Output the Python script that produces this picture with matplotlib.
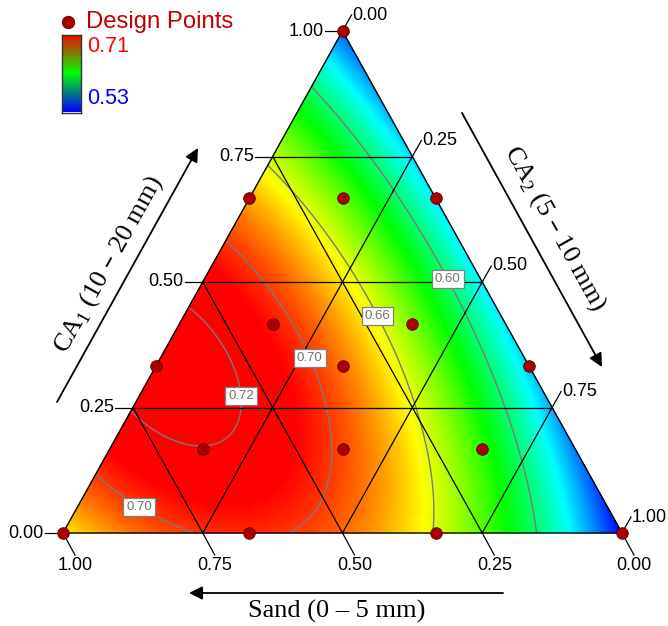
import numpy as np
import matplotlib
matplotlib.use("Agg")
import matplotlib.pyplot as plt
import matplotlib.tri as mtri
from matplotlib.colors import LinearSegmentedColormap, Normalize

# ---------------- data ----------------
sand = [0, 1/3, 0, 1/6, 2/3, 0, 1/3, 5/12, 1/6, 2/3, 5/12, 1/6, 1, 2/3, 1/3, 0]
ca1 = [1, 2/3, 2/3, 2/3, 1/3, 1/3, 1/3, 5/12, 5/12, 1/6, 1/6, 1/6, 0, 0, 0, 0]
ca2 = [0, 0, 1/3, 1/6, 0, 2/3, 1/3, 1/6, 5/12, 1/6, 5/12, 2/3, 0, 1/3, 2/3, 1]
density = [0.547, 0.678, 0.570, 0.640, 0.726, 0.567, 0.688, 0.706,
           0.642, 0.719, 0.696, 0.626, 0.667, 0.703, 0.659, 0.530]
contour_levels = [0.60, 0.66, 0.70, 0.72]
tick_values = [0.0, 0.25, 0.50, 0.75, 1.00]
tick_labels = ['0.00', '0.25', '0.50', '0.75', '1.00']
cbar_min, cbar_max = 0.53, 0.71

plt.rcParams['font.family'] = ['Liberation Sans', 'DejaVu Sans']

# ---------------- layout (pixels) ----------------
W, H = 668, 626
PX0, PX1, PY0, PY1 = 63, 622, 533, 31   # triangle base-left x, base-right x, base y, apex y


def px2d(px, py):
    return (px - PX0) / (PX1 - PX0), (PY0 - py) / (PY0 - PY1)


def d2px(x, y):
    return PX0 + x * (PX1 - PX0), PY0 - y * (PY0 - PY1)


def bary(s, a, c):
    s, a, c = np.asarray(s, float), np.asarray(a, float), np.asarray(c, float)
    return c + a / 2.0, a


# ---------------- Scheffe cubic model fitted to design points ----------------
def terms(s, a, c):
    return np.column_stack([s, a, c, s * a, s * c, a * c,
                            s * a * (s - a), s * c * (s - c), a * c * (a - c), s * a * c])


S, A, C = np.array(sand), np.array(ca1), np.array(ca2)
coef, *_ = np.linalg.lstsq(terms(S, A, C), np.array(density), rcond=None)

n = 170
aa, cc = [], []
for j in range(n + 1):
    for k in range(n + 1 - j):
        aa.append(j / n)
        cc.append(k / n)
aa = np.array(aa)
cc = np.array(cc)
ss = np.clip(1 - aa - cc, 0, 1)
z = terms(ss, aa, cc) @ coef
X, Y = bary(ss, aa, cc)
tri = mtri.Triangulation(X, Y)

fig = plt.figure(figsize=(W / 100, H / 100), dpi=100)
ax = fig.add_axes([0, 0, 1, 1])
ax.set_xlim(px2d(0, 0)[0], px2d(W, 0)[0])
ax.set_ylim(px2d(0, H)[1], px2d(0, 0)[1])
ax.axis('off')

cmap = LinearSegmentedColormap.from_list('rb', ['#0000ff', '#00ffff', '#00ff00', '#ffff00', '#ff0000'])
norm = Normalize(vmin=cbar_min, vmax=cbar_max, clip=True)
ax.tripcolor(tri, z, cmap=cmap, norm=norm, shading='gouraud', zorder=1, rasterized=True)

cs = ax.tricontour(tri, z, levels=contour_levels, colors='#7a7a7a', linewidths=1.0, zorder=2)

# grid lines
for v in [0.25, 0.5, 0.75]:
    for p, q in [((1 - v, v, 0), (0, v, 1 - v)),
                 ((1 - v, 0, v), (0, 1 - v, v)),
                 ((v, 1 - v, 0), (v, 0, 1 - v))]:
        x0, y0 = bary(*p)
        x1, y1 = bary(*q)
        ax.plot([x0, x1], [y0, y1], color='black', lw=0.9, zorder=3)

# triangle outline
vx, vy = bary([1, 0, 0, 1], [0, 1, 0, 0], [0, 0, 1, 0])
ax.plot(vx, vy, color='black', lw=1.0, zorder=3)

# contour labels
manual = [px2d(450, 278), px2d(379, 315), px2d(310, 358), px2d(230, 397), px2d(145, 497)]
texts = ax.clabel(cs, inline=False, manual=manual, fmt='%.2f', fontsize=9.5, colors='#707070')
for t in texts:
    t.set_rotation(0)
    t.set_bbox(dict(boxstyle='square,pad=0.22', fc='white', ec='#808080', lw=0.9))
    t.set_zorder(6)

# design points
dx, dy = bary(S, A, C)
ax.scatter(dx, dy, s=70, color='#a80000', edgecolors='#5a0000', linewidths=0.6, zorder=7, clip_on=False)

# ---------------- ticks ----------------
tick_fs = 13
for v, lab in zip(tick_values, tick_labels):
    # CA1 (left side)
    px, py = d2px(*bary(1 - v, v, 0))
    ex, ey = px - 18, py
    ax.plot(*zip(px2d(px, py), px2d(ex, ey)), color='black', lw=0.9, zorder=3, clip_on=False)
    ax.text(*px2d(ex - 1, ey), lab, ha='right', va='center', fontsize=tick_fs)
    # CA2 (right side)
    px, py = d2px(*bary(0, 1 - v, v))
    ex, ey = px + 9, py - 16
    ax.plot(*zip(px2d(px, py), px2d(ex, ey)), color='black', lw=0.9, zorder=3, clip_on=False)
    ax.text(*px2d(ex + 1, ey), lab, ha='left', va='center', fontsize=tick_fs)
    # Sand (bottom)
    px, py = d2px(*bary(v, 0, 1 - v))
    ex, ey = px + 12, py + 22
    ax.plot(*zip(px2d(px, py), px2d(ex, ey)), color='black', lw=0.9, zorder=3, clip_on=False)
    ax.text(*px2d(ex, ey + 2), lab, ha='center', va='top', fontsize=tick_fs)

# ---------------- axis titles & arrows ----------------
serif = ['Liberation Serif', 'DejaVu Serif']
title_fs = 19
arrow_kw = dict(arrowstyle='-|>', color='black', lw=1.3, mutation_scale=20, shrinkA=0, shrinkB=0)
ax.annotate('', xy=px2d(189, 593), xytext=px2d(503, 593), arrowprops=arrow_kw)
ax.text(*px2d(337, 611), 'Sand (0 – 5 mm)', ha='center', va='center', fontsize=title_fs, family=serif)

ang = np.degrees(np.arctan2(PY0 - PY1, (PX1 - PX0) / 2))
ax.annotate('', xy=px2d(198, 148), xytext=px2d(57, 402), arrowprops=arrow_kw)
ax.text(*px2d(109, 265), r'CA$_{\mathregular{1}}$ (10 – 20 mm)', ha='center', va='center',
        rotation=ang, rotation_mode='anchor', fontsize=title_fs, family=serif)

ax.annotate('', xy=px2d(602, 367), xytext=px2d(462, 113), arrowprops=arrow_kw)
ax.text(*px2d(555, 228), r'CA$_{\mathregular{2}}$ (5 – 10 mm)', ha='center', va='center',
        rotation=-ang, rotation_mode='anchor', fontsize=title_fs, family=serif)

# ---------------- legend & colour bar ----------------
ax.scatter(*px2d(68, 22), s=80, color='#a80000', edgecolors='#5a0000', linewidths=0.6, zorder=7)
ax.text(*px2d(86, 22), 'Design Points', ha='left', va='center', fontsize=17.2, color='#c00000')

cax = fig.add_axes([62 / W, 1 - 112.5 / H, 19 / W, 77.5 / H])
bar_cmap = LinearSegmentedColormap.from_list('bar', ['#0000ff', '#00ff00', '#ff0000'])
grad = np.linspace(cbar_min, cbar_max, 256).reshape(-1, 1)
cax.imshow(grad, aspect='auto', cmap=bar_cmap, origin='lower')
cax.set_xticks([])
cax.set_yticks([])
for sp in cax.spines.values():
    sp.set_color('#333333')
    sp.set_linewidth(1.0)
ax.text(*px2d(87, 47), f'{cbar_max:.2f}', ha='left', va='center', fontsize=15.5, color='#ff0000')
ax.text(*px2d(87, 98), f'{cbar_min:.2f}', ha='left', va='center', fontsize=15.5, color='#0000ff')

fig.savefig('out.png', dpi=100)
